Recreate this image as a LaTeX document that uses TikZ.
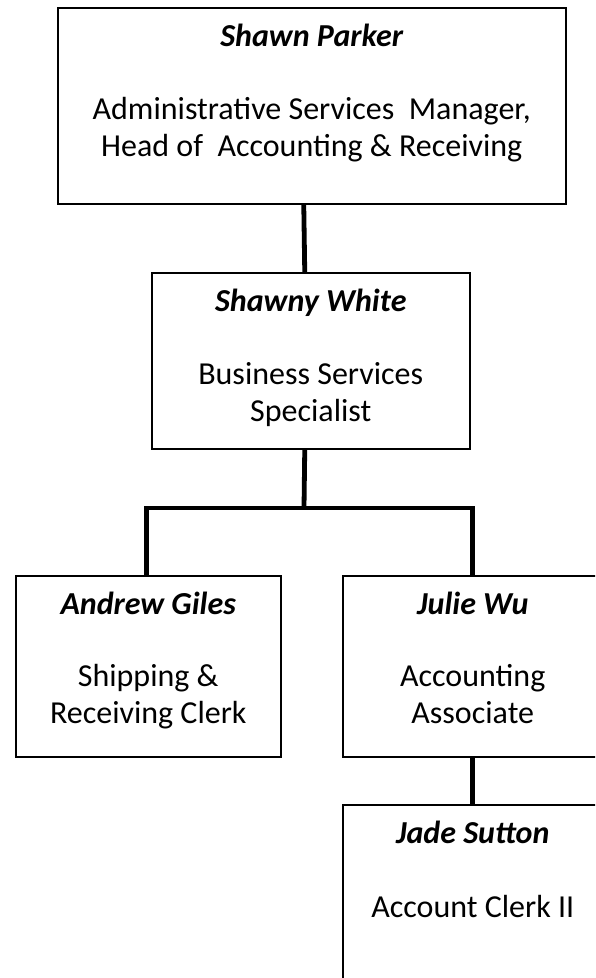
\documentclass[tikz,border=0pt]{standalone}
\usepackage{fontspec}
\setmainfont{Carlito}
\newcommand{\orgfont}{\fontsize{32}{37}\selectfont}
\begin{document}
\begin{tikzpicture}[x=1pt,y=-1pt,font=\orgfont]
    \tikzset{
      box/.style={draw, line width=1.5pt, anchor=north west, inner sep=0pt},
      who/.style={font=\orgfont\bfseries\itshape, anchor=base, inner sep=0pt},
      role/.style={font=\orgfont, align=center, anchor=base, inner sep=0pt},
      link/.style={line width=4.8pt}
    }
    \clip (0,0) rectangle (595,978);
    % Shawn Parker
    \node[box, minimum width=508pt, minimum height=196pt] (parker) at (57,7) {};
    \node[who] (parkername) at ([yshift=-39pt]parker.north) {Shawn Parker};
    \node[role] (parkerrole) at ([yshift=-149pt]parker.north) {Administrative Services\ \ Manager,\\Head of\ \ Accounting \& Receiving};
    % Shawny White
    \node[box, minimum width=318pt, minimum height=176pt] (white) at (151,272) {};
    \node[who] (whitename) at ([yshift=-39pt]white.north) {Shawny White};
    \node[role] (whiterole) at ([yshift=-149pt]white.north) {Business Services\\Specialist};
    % Andrew Giles
    \node[box, minimum width=265pt, minimum height=181pt] (giles) at (15,575) {};
    \node[who] (gilesname) at ([yshift=-39pt]giles.north) {Andrew Giles};
    \node[role] (gilesrole) at ([yshift=-148pt]giles.north) {Shipping \&\\Receiving Clerk};
    % Julie Wu
    \node[box, minimum width=260pt, minimum height=181pt] (wu) at (342,575) {};
    \node[who] (wuname) at ([yshift=-39pt]wu.north) {Julie Wu};
    \node[role] (wurole) at ([yshift=-148pt]wu.north) {Accounting\\Associate};
    % Jade Sutton
    \node[box, minimum width=260pt, minimum height=200pt] (sutton) at (342,804) {};
    \node[who] (suttonname) at ([yshift=-39pt]sutton.north) {Jade Sutton};
    \node[role] (suttonrole) at ([yshift=-113pt]sutton.north) {Account Clerk II};
    % reporting lines
    \coordinate (fork) at (304,508);
    \draw[link] ([xshift=-8pt]parker.south) -- ([xshift=-6pt]white.north);
    \draw[link] ([xshift=-6pt]white.south) -- (fork);
    \draw[link] ([xshift=-1.5pt]giles.north) |- (fork) -| (wu.north);
    \draw[link] (wu.south) -- (sutton.north);
\end{tikzpicture}
\end{document}
